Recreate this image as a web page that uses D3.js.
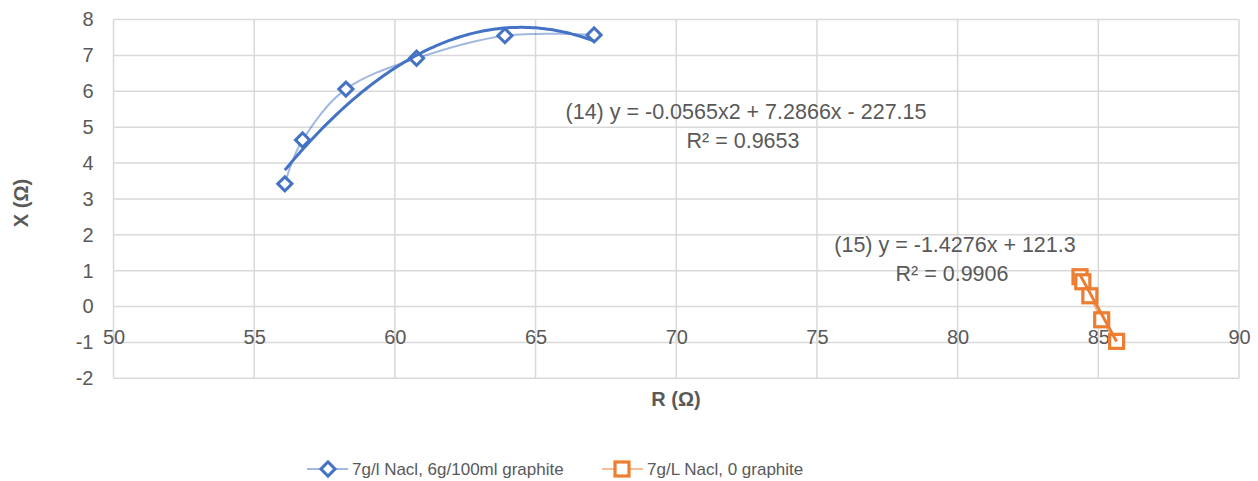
<!DOCTYPE html>
<html>
<head>
<meta charset="utf-8">
<script src="https://cdn.jsdelivr.net/npm/d3@7"></script>
<style>
  html, body { margin: 0; padding: 0; background: #fff; }
  svg { display: block; }
  text { font-family: "Liberation Sans", Arial, sans-serif; fill: #595959; }
</style>
</head>
<body>
<svg id="chart" width="1258" height="481"></svg>
<script>
// ---- data ----
const seriesNames = ["7g/l Nacl, 6g/100ml graphite", "7g/L Nacl, 0 graphite"];
const blueR = [56.09, 56.72, 58.26, 60.77, 63.91, 67.08];
const blueX = [3.42, 4.64, 6.06, 6.92, 7.55, 7.57];
const orangeR = [84.35, 84.45, 84.70, 85.12, 85.65];
const orangeX = [0.83, 0.69, 0.30, -0.37, -0.97];
const blueTrendCoef = [-227.15, 7.2866, -0.0565];   // c0 + c1 x + c2 x^2
const orangeTrendCoef = [121.3, -1.4276];
const blueTrendLabel = ["(14) y = -0.0565x2 + 7.2866x - 227.15", "R² = 0.9653"];
const orangeTrendLabel = ["(15) y = -1.4276x + 121.3", "R² = 0.9906"];
const xTicks = [50, 55, 60, 65, 70, 75, 80, 85, 90];
const yTicks = [-2, -1, 0, 1, 2, 3, 4, 5, 6, 7, 8];
const xTitle = "R (Ω)";
const yTitle = "X (Ω)";

// ---- layout ----
const svg = d3.select("#chart");
const x = d3.scaleLinear().domain([50, 90]).range([113.5, 1239]);
const y = d3.scaleLinear().domain([-2, 8]).range([378.3, 19.5]);
const blue = "#4472C4", orange = "#ED7D31";
const gridColor = "#D9D9D9";
const fmt = d => String(d);

// grid
const grid = svg.append("g");
grid.selectAll("line.h").data(yTicks).enter().append("line")
  .attr("x1", x(50)).attr("x2", x(90))
  .attr("y1", d => y(d)).attr("y2", d => y(d))
  .attr("stroke", gridColor).attr("stroke-width", 1.5);
grid.selectAll("line.v").data(xTicks).enter().append("line")
  .attr("y1", y(8)).attr("y2", y(-2))
  .attr("x1", d => x(d)).attr("x2", d => x(d))
  .attr("stroke", gridColor).attr("stroke-width", 1.5);

// y axis labels
const yAxis = svg.append("g").attr("transform", `translate(${x(50)},0)`)
  .call(d3.axisLeft(y).tickValues(yTicks).tickFormat(fmt).tickSize(0).tickPadding(20));
yAxis.select(".domain").remove();
yAxis.selectAll("text").style("font-size", "20px").style("fill", "#595959")
  .style("font-family", "Liberation Sans, Arial, sans-serif");

// x axis labels
const xAxis = svg.append("g").attr("transform", `translate(0,${y(-0.85)})`)
  .call(d3.axisBottom(x).tickValues(xTicks).tickFormat(fmt).tickSize(0).tickPadding(0));
xAxis.select(".domain").remove();
xAxis.selectAll("text").attr("y", 0).attr("dy", "0.35em")
  .style("font-size", "20px").style("fill", "#595959")
  .style("font-family", "Liberation Sans, Arial, sans-serif");

// axis titles
svg.append("text").attr("x", 676).attr("y", 399).attr("text-anchor", "middle")
  .attr("dominant-baseline", "central")
  .style("font-size", "20px").style("font-weight", "bold").text(xTitle);
svg.append("text").attr("transform", "translate(21,203) rotate(-90)")
  .attr("text-anchor", "middle").attr("dominant-baseline", "central")
  .style("font-size", "20px").style("font-weight", "bold").text(yTitle);

// series lines (smoothed, light)
const bluePts = blueR.map((r, i) => [r, blueX[i]]);
const orangePts = orangeR.map((r, i) => [r, orangeX[i]]);
const smooth = d3.line().x(d => x(d[0])).y(d => y(d[1])).curve(d3.curveCatmullRom.alpha(0));
svg.append("path").attr("d", smooth(bluePts)).attr("fill", "none")
  .attr("stroke", blue).attr("stroke-opacity", 0.5).attr("stroke-width", 2);
svg.append("path").attr("d", smooth(orangePts)).attr("fill", "none")
  .attr("stroke", orange).attr("stroke-opacity", 0.5).attr("stroke-width", 2);

// markers
const diamond = d3.symbol().type(d3.symbolSquare).size(100);
svg.selectAll("path.bm").data(bluePts).enter().append("path")
  .attr("d", diamond())
  .attr("transform", d => `translate(${x(d[0])},${y(d[1])}) rotate(45)`)
  .attr("fill", "#fff").attr("stroke", blue).attr("stroke-width", 3);
svg.selectAll("rect.om").data(orangePts).enter().append("rect")
  .attr("x", d => x(d[0]) - 7).attr("y", d => y(d[1]) - 7)
  .attr("width", 14).attr("height", 14)
  .attr("fill", "#fff").attr("stroke", orange).attr("stroke-width", 3.2);

// trendlines
const bMin = d3.min(blueR), bMax = d3.max(blueR);
const bTrend = d3.range(0, 101).map(i => {
  const r = bMin + (bMax - bMin) * i / 100;
  return [r, blueTrendCoef[0] + blueTrendCoef[1] * r + blueTrendCoef[2] * r * r];
});
const straight = d3.line().x(d => x(d[0])).y(d => y(d[1]));
svg.append("path").attr("d", straight(bTrend)).attr("fill", "none")
  .attr("stroke", blue).attr("stroke-width", 3);
const oMin = d3.min(orangeR), oMax = d3.max(orangeR);
const oTrend = [oMin, oMax].map(r => [r, orangeTrendCoef[0] + orangeTrendCoef[1] * r]);
svg.append("path").attr("d", straight(oTrend)).attr("fill", "none")
  .attr("stroke", orange).attr("stroke-width", 3);

// trendline labels
function eqLabel(lines, cx1, cx2, cy) {
  lines.forEach((t, i) => {
    svg.append("text").attr("x", i === 0 ? cx1 : cx2).attr("y", cy + i * 29)
      .attr("text-anchor", "middle").attr("dominant-baseline", "central")
      .style("font-size", "21.5px").text(t);
  });
}
eqLabel(blueTrendLabel, 746, 743, 112);
eqLabel(orangeTrendLabel, 955, 952, 245);

// legend
const ly = 469;
const leg = svg.append("g");
leg.append("line").attr("x1", 307).attr("x2", 348).attr("y1", ly).attr("y2", ly)
  .attr("stroke", blue).attr("stroke-opacity", 0.5).attr("stroke-width", 2);
leg.append("path").attr("d", diamond()).attr("transform", `translate(328,${ly}) rotate(45)`)
  .attr("fill", "#fff").attr("stroke", blue).attr("stroke-width", 3);
leg.append("text").attr("x", 352).attr("y", ly).attr("dominant-baseline", "central")
  .style("font-size", "17px").text(seriesNames[0]);
leg.append("line").attr("x1", 602).attr("x2", 643).attr("y1", ly).attr("y2", ly)
  .attr("stroke", orange).attr("stroke-opacity", 0.5).attr("stroke-width", 2);
leg.append("rect").attr("x", 622 - 7).attr("y", ly - 7).attr("width", 14).attr("height", 14)
  .attr("fill", "#fff").attr("stroke", orange).attr("stroke-width", 3.2);
leg.append("text").attr("x", 647).attr("y", ly).attr("dominant-baseline", "central")
  .style("font-size", "17px").text(seriesNames[1]);
</script>
</body>
</html>
